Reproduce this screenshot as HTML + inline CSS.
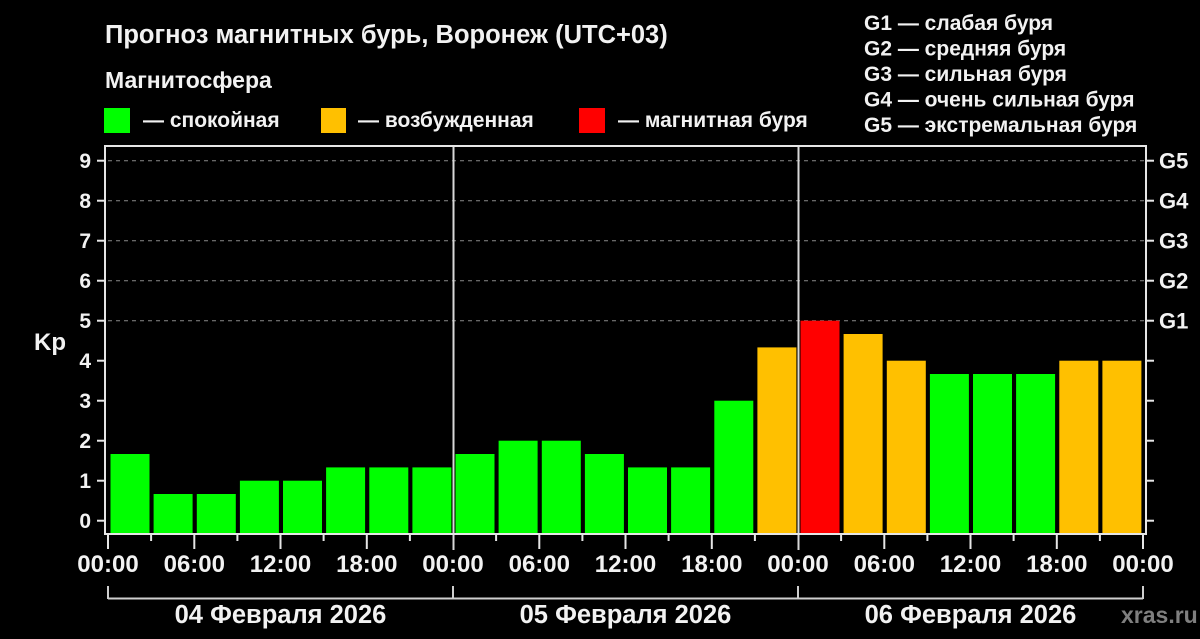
<!DOCTYPE html>
<html><head><meta charset="utf-8">
<style>
html,body{margin:0;padding:0;background:#000;}
svg{display:block;}
text{font-family:"Liberation Sans","DejaVu Sans",sans-serif;font-weight:bold;fill:#f2f2f2;}
</style></head>
<body>
<svg width="1200" height="639" viewBox="0 0 1200 639" xmlns="http://www.w3.org/2000/svg">
<rect x="0" y="0" width="1200" height="639" fill="#000"/>

<!-- Title & legend -->
<text x="105" y="43" font-size="25.5">Прогноз магнитных бурь, Воронеж (UTC+03)</text>
<text x="105" y="88" font-size="23">Магнитосфера</text>
<rect x="104" y="108" width="26" height="25" fill="#00ff00"/>
<text x="143" y="127" font-size="21">— спокойная</text>
<rect x="321" y="108" width="25" height="25" fill="#ffc000"/>
<text x="358" y="127" font-size="21">— возбужденная</text>
<rect x="579" y="108" width="26" height="25" fill="#ff0000"/>
<text x="618" y="127" font-size="21">— магнитная буря</text>

<text x="864" y="30" font-size="21">G1 — слабая буря</text>
<text x="864" y="55.5" font-size="21">G2 — средняя буря</text>
<text x="864" y="81" font-size="21">G3 — сильная буря</text>
<text x="864" y="106.5" font-size="21">G4 — очень сильная буря</text>
<text x="864" y="132" font-size="21">G5 — экстремальная буря</text>

<!-- gridlines -->
<g stroke="#8a8a8a" stroke-width="1" stroke-dasharray="4,4">
<line x1="108" y1="160.7" x2="1144" y2="160.7"/>
<line x1="108" y1="200.7" x2="1144" y2="200.7"/>
<line x1="108" y1="240.7" x2="1144" y2="240.7"/>
<line x1="108" y1="280.7" x2="1144" y2="280.7"/>
<line x1="108" y1="320.7" x2="1144" y2="320.7"/>
</g>

<!-- bars -->
<g>
<rect x="110.5" y="454" width="39" height="80" fill="#00ff00"/>
<rect x="153.6" y="494" width="39" height="40" fill="#00ff00"/>
<rect x="196.8" y="494" width="39" height="40" fill="#00ff00"/>
<rect x="239.9" y="480.7" width="39" height="53.3" fill="#00ff00"/>
<rect x="283" y="480.7" width="39" height="53.3" fill="#00ff00"/>
<rect x="326.1" y="467.4" width="39" height="66.6" fill="#00ff00"/>
<rect x="369.3" y="467.4" width="39" height="66.6" fill="#00ff00"/>
<rect x="412.4" y="467.4" width="39" height="66.6" fill="#00ff00"/>
<rect x="455.5" y="454" width="39" height="80" fill="#00ff00"/>
<rect x="498.6" y="440.7" width="39" height="93.3" fill="#00ff00"/>
<rect x="541.8" y="440.7" width="39" height="93.3" fill="#00ff00"/>
<rect x="584.9" y="454" width="39" height="80" fill="#00ff00"/>
<rect x="628" y="467.4" width="39" height="66.6" fill="#00ff00"/>
<rect x="671.1" y="467.4" width="39" height="66.6" fill="#00ff00"/>
<rect x="714.3" y="400.7" width="39" height="133.3" fill="#00ff00"/>
<rect x="757.4" y="347.4" width="39" height="186.6" fill="#ffc000"/>
<rect x="800.5" y="320.7" width="39" height="213.3" fill="#ff0000"/>
<rect x="843.6" y="334" width="39" height="200" fill="#ffc000"/>
<rect x="886.8" y="360.7" width="39" height="173.3" fill="#ffc000"/>
<rect x="929.9" y="374" width="39" height="160" fill="#00ff00"/>
<rect x="973" y="374" width="39" height="160" fill="#00ff00"/>
<rect x="1016.1" y="374" width="39" height="160" fill="#00ff00"/>
<rect x="1059.3" y="360.7" width="39" height="173.3" fill="#ffc000"/>
<rect x="1102.4" y="360.7" width="39" height="173.3" fill="#ffc000"/>
</g>

<!-- day dividers -->
<g stroke="#d8d8d8" stroke-width="2">
<line x1="453.5" y1="146" x2="453.5" y2="550"/>
<line x1="798.5" y1="146" x2="798.5" y2="550"/>
</g>

<!-- frame -->
<rect x="105" y="146" width="1041" height="388" fill="none" stroke="#e6e6e6" stroke-width="2"/>

<g stroke="#e6e6e6" stroke-width="2">
<line x1="97" y1="520.7" x2="105" y2="520.7"/>
<line x1="97" y1="480.7" x2="105" y2="480.7"/>
<line x1="97" y1="440.7" x2="105" y2="440.7"/>
<line x1="97" y1="400.7" x2="105" y2="400.7"/>
<line x1="97" y1="360.7" x2="105" y2="360.7"/>
<line x1="97" y1="320.7" x2="105" y2="320.7"/>
<line x1="97" y1="280.7" x2="105" y2="280.7"/>
<line x1="97" y1="240.7" x2="105" y2="240.7"/>
<line x1="97" y1="200.7" x2="105" y2="200.7"/>
<line x1="97" y1="160.7" x2="105" y2="160.7"/>
<line x1="1146" y1="520.7" x2="1154" y2="520.7"/>
<line x1="1146" y1="480.7" x2="1154" y2="480.7"/>
<line x1="1146" y1="440.7" x2="1154" y2="440.7"/>
<line x1="1146" y1="400.7" x2="1154" y2="400.7"/>
<line x1="1146" y1="360.7" x2="1154" y2="360.7"/>
<line x1="1146" y1="320.7" x2="1154" y2="320.7"/>
<line x1="1146" y1="280.7" x2="1154" y2="280.7"/>
<line x1="1146" y1="240.7" x2="1154" y2="240.7"/>
<line x1="1146" y1="200.7" x2="1154" y2="200.7"/>
<line x1="1146" y1="160.7" x2="1154" y2="160.7"/>
<line x1="108" y1="534" x2="108" y2="549"/>
<line x1="194.3" y1="534" x2="194.3" y2="549"/>
<line x1="280.5" y1="534" x2="280.5" y2="549"/>
<line x1="366.8" y1="534" x2="366.8" y2="549"/>
<line x1="539.3" y1="534" x2="539.3" y2="549"/>
<line x1="625.5" y1="534" x2="625.5" y2="549"/>
<line x1="711.8" y1="534" x2="711.8" y2="549"/>
<line x1="884.3" y1="534" x2="884.3" y2="549"/>
<line x1="970.5" y1="534" x2="970.5" y2="549"/>
<line x1="1056.8" y1="534" x2="1056.8" y2="549"/>
<line x1="1143" y1="534" x2="1143" y2="549"/>
<line x1="151.1" y1="534" x2="151.1" y2="541"/>
<line x1="237.4" y1="534" x2="237.4" y2="541"/>
<line x1="323.6" y1="534" x2="323.6" y2="541"/>
<line x1="409.9" y1="534" x2="409.9" y2="541"/>
<line x1="496.1" y1="534" x2="496.1" y2="541"/>
<line x1="582.4" y1="534" x2="582.4" y2="541"/>
<line x1="668.6" y1="534" x2="668.6" y2="541"/>
<line x1="754.9" y1="534" x2="754.9" y2="541"/>
<line x1="841.1" y1="534" x2="841.1" y2="541"/>
<line x1="927.4" y1="534" x2="927.4" y2="541"/>
<line x1="1013.6" y1="534" x2="1013.6" y2="541"/>
<line x1="1099.9" y1="534" x2="1099.9" y2="541"/>
</g>

<g font-size="21" text-anchor="end">
<text x="91" y="528.2">0</text>
<text x="91" y="488.2">1</text>
<text x="91" y="448.2">2</text>
<text x="91" y="408.2">3</text>
<text x="91" y="368.2">4</text>
<text x="91" y="328.2">5</text>
<text x="91" y="288.2">6</text>
<text x="91" y="248.2">7</text>
<text x="91" y="208.2">8</text>
<text x="91" y="168.2">9</text>
</g>
<text x="34" y="350" font-size="24">Kp</text>

<g font-size="22">
<text x="1159" y="328.5">G1</text>
<text x="1159" y="288.5">G2</text>
<text x="1159" y="248.5">G3</text>
<text x="1159" y="208.5">G4</text>
<text x="1159" y="168.5">G5</text>
</g>

<g font-size="24" text-anchor="middle">
<text x="108" y="572">00:00</text>
<text x="194.3" y="572">06:00</text>
<text x="280.5" y="572">12:00</text>
<text x="366.8" y="572">18:00</text>
<text x="453" y="572">00:00</text>
<text x="539.3" y="572">06:00</text>
<text x="625.5" y="572">12:00</text>
<text x="711.8" y="572">18:00</text>
<text x="798" y="572">00:00</text>
<text x="884.3" y="572">06:00</text>
<text x="970.5" y="572">12:00</text>
<text x="1056.8" y="572">18:00</text>
<text x="1143" y="572">00:00</text>
</g>

<g stroke="#cfcfcf" stroke-width="2" fill="none">
<line x1="108" y1="598.5" x2="1143" y2="598.5"/>
<line x1="108" y1="586" x2="108" y2="599"/>
<line x1="453" y1="586" x2="453" y2="599"/>
<line x1="798" y1="586" x2="798" y2="599"/>
<line x1="1143" y1="586" x2="1143" y2="599"/>
</g>
<g font-size="25.5" text-anchor="middle">
<text x="280.5" y="623">04 Февраля 2026</text>
<text x="625.5" y="623">05 Февраля 2026</text>
<text x="970.5" y="623">06 Февраля 2026</text>
</g>
<text x="1121" y="623" font-size="23" style="fill:#7f7f7f">xras.ru</text>
</svg>
</body></html>
